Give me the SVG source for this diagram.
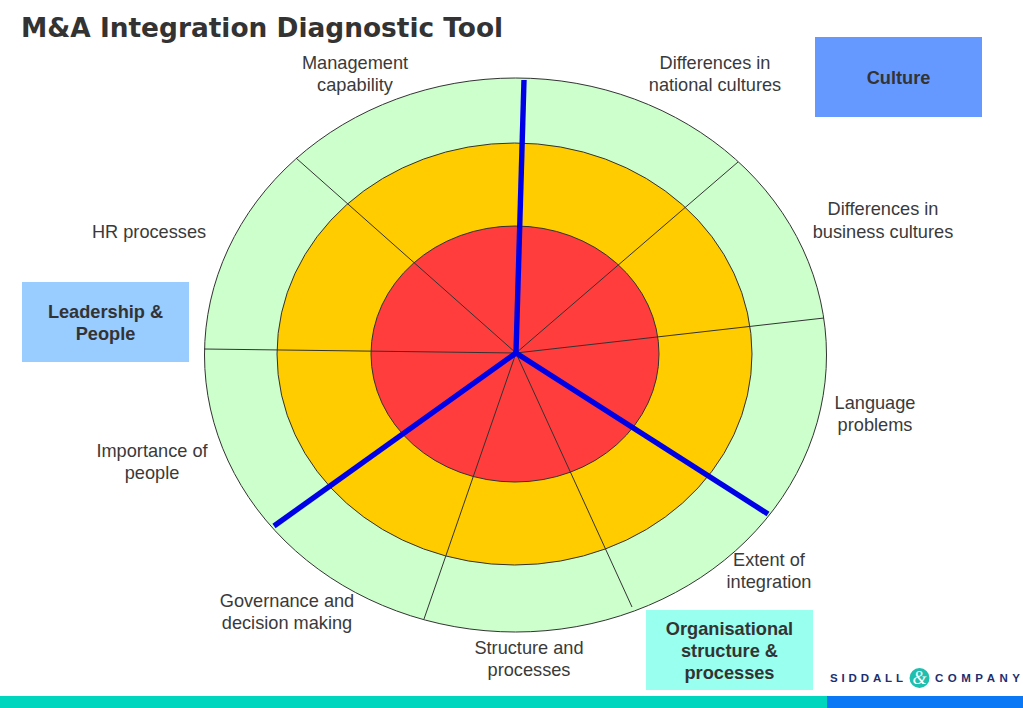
<svg xmlns="http://www.w3.org/2000/svg" width="1023" height="708" viewBox="0 0 1023 708">
<style>
text{font-family:"Liberation Sans",Arial,sans-serif;font-size:18.2px;fill:#3a3a3a;text-anchor:middle}
.title{font-family:"DejaVu Sans",Verdana,sans-serif;font-size:26.4px;font-weight:700;text-anchor:start;fill:#333333}
.b{font-weight:700;fill:#333333}
.ring{stroke:#333333;stroke-width:1}
.thin{stroke:#333333;stroke-width:1;fill:none}
.thick{stroke:#0000e6;stroke-width:5.4;fill:none}
.logo{font-size:11.500px;font-weight:700;fill:#1d2f6f;text-anchor:start}
</style>
<rect width="1023" height="708" fill="#ffffff"/>
<text class="title" x="21" y="37">M&amp;A Integration Diagnostic Tool</text>
<g id="rings">
<ellipse class="ring" cx="515.5" cy="355" rx="311" ry="277" fill="#ccffcc"/>
<ellipse class="ring" cx="514.5" cy="354" rx="237.5" ry="211" fill="#ffcc00"/>
<ellipse class="ring" cx="515" cy="354" rx="144" ry="128" fill="#ff3d3d"/>
</g>
<g id="connectors">
<line class="thin" x1="516" y1="353" x2="296" y2="158"/>
<line class="thin" x1="516" y1="353" x2="738" y2="162"/>
<line class="thin" x1="516" y1="353" x2="824" y2="318"/>
<line class="thin" x1="516" y1="353" x2="204" y2="349"/>
<line class="thin" x1="516" y1="353" x2="424" y2="619"/>
<line class="thin" x1="516" y1="353" x2="632" y2="607"/>
<line class="thick" x1="516" y1="353" x2="524" y2="80"/>
<line class="thick" x1="516" y1="353" x2="768" y2="514"/>
<line class="thick" x1="516" y1="353" x2="274" y2="526"/>
</g>
<g id="label-management"><text x="355" y="69">Management</text><text x="355" y="91">capability</text></g>
<g id="label-national"><text x="715" y="69">Differences in</text><text x="715" y="91">national cultures</text></g>
<g id="label-business"><text x="883" y="215">Differences in</text><text x="883" y="238">business cultures</text></g>
<g id="label-hr"><text x="149" y="238">HR processes</text></g>
<g id="label-language"><text x="875" y="409">Language</text><text x="875" y="431">problems</text></g>
<g id="label-importance"><text x="152" y="457">Importance of</text><text x="152" y="479">people</text></g>
<g id="label-extent"><text x="769" y="566">Extent of</text><text x="769" y="588">integration</text></g>
<g id="label-governance"><text x="287" y="607">Governance and</text><text x="287" y="629">decision making</text></g>
<g id="label-structure"><text x="529" y="654">Structure and</text><text x="529" y="676">processes</text></g>
<g id="node-culture"><rect x="815" y="37" width="167" height="80" fill="#6699ff"/><text class="b" x="898.5" y="84">Culture</text></g>
<g id="node-leadership"><rect x="22" y="282" width="167" height="80" fill="#99ccff"/><text class="b" x="105.500" y="318">Leadership &amp;</text><text class="b" x="105.500" y="340">People</text></g>
<g id="node-organisational"><rect x="646" y="610" width="167" height="80" fill="#99ffee"/><text class="b" x="729.500" y="635">Organisational</text><text class="b" x="729.500" y="657">structure &amp;</text><text class="b" x="729.500" y="679">processes</text></g>
<g id="logo">
<text class="logo" x="830" y="682" textLength="73" lengthAdjust="spacing">SIDDALL</text>
<circle cx="919.500" cy="678" r="10" fill="#1fbfb0"/>
<text x="919.500" y="684" style="font-family:'Liberation Serif',serif;font-size:18px;font-style:italic;fill:#ffffff">&amp;</text>
<text class="logo" x="935" y="682" textLength="85" lengthAdjust="spacing">COMPANY</text>
</g>
<g id="footer">
<rect x="0" y="696" width="827" height="12" fill="#00d6bd"/>
<rect x="827" y="696" width="196" height="12" fill="#0a78f5"/>
</g>
</svg>
